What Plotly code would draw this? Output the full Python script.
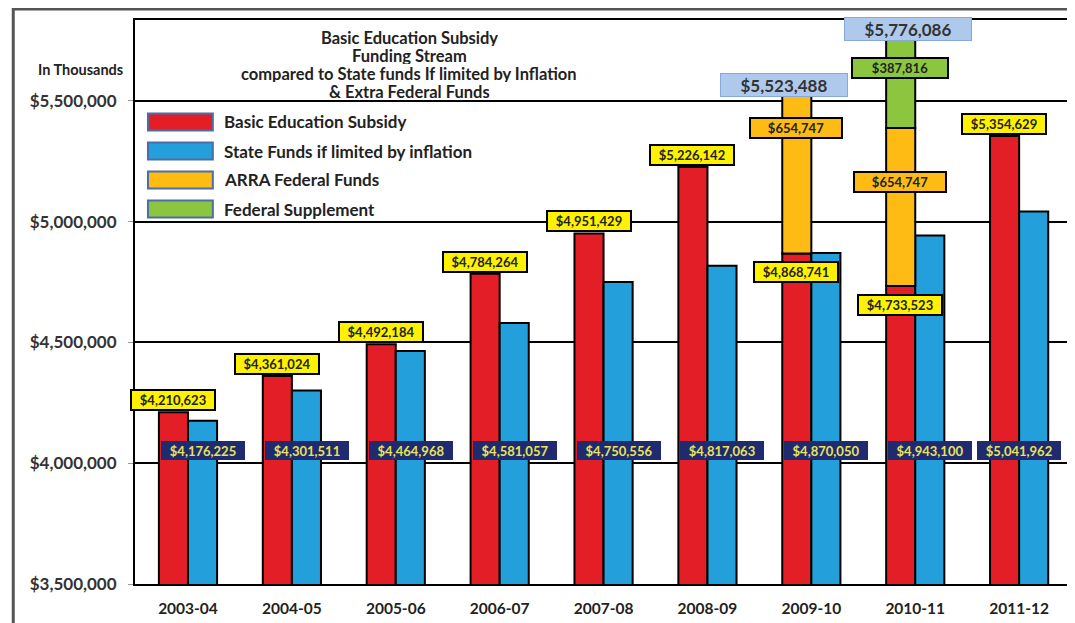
import plotly.graph_objects as go

# ---------------- data ----------------
years = ["2003-04", "2004-05", "2005-06", "2006-07", "2007-08",
         "2008-09", "2009-10", "2010-11", "2011-12"]
basic_subsidy = [4210623, 4361024, 4492184, 4784264, 4951429,
                 5226142, 4868741, 4733523, 5354629]
inflation_limited = [4176225, 4301511, 4464968, 4581057, 4750556,
                     4817063, 4870050, 4943100, 5041962]
arra_years = ["2009-10", "2010-11"]
arra_funds = [654747, 654747]
supplement_years = ["2010-11"]
federal_supplement = [387816]
y_ticks = [3500000, 4000000, 4500000, 5000000, 5500000]
title_lines = ["Basic Education Subsidy", "Funding Stream",
               "compared to State funds If limited by Inflation",
               "& Extra Federal Funds"]
legend_names = ["Basic Education Subsidy", "State Funds if limited by inflation",
                "ARRA Federal Funds", "Federal Supplement"]

# ---------------- styles ----------------
FONT = "Lato, 'Open Sans', sans-serif"
RED = "#E41E26"
BLUE = "#23A0DB"
ORANGE = "#FDBB14"
GREEN = "#8CC63F"
LABEL_YELLOW = "#FFF200"
NAVY = "#1F2B6E"
BAR_W = 0.28
X_RANGE = [-0.51, 8.48]

# plot-area geometry in page pixels (page has an 8px body margin)
PL, PR, PT, PB = 135, 1071, 20, 584
PW, PH = PR - PL, PB - PT
px = lambda x: (x - PL) / PW
py = lambda y: (PB - y) / PH
cat_px = PW / (X_RANGE[1] - X_RANGE[0])

basic_by_year = dict(zip(years, basic_subsidy))
arra_by_year = dict(zip(arra_years, arra_funds))
supp_by_year = dict(zip(supplement_years, federal_supplement))
arra_base = [basic_by_year[y] for y in arra_years]
supp_base = [basic_by_year[y] + arra_by_year[y] for y in supplement_years]

fig = go.Figure()
line = dict(color="black", width=2)
fig.add_trace(go.Bar(name=legend_names[0], x=years, y=basic_subsidy,
                     width=BAR_W, offset=-BAR_W,
                     marker=dict(color=RED, line=line)))
fig.add_trace(go.Bar(name=legend_names[1], x=years, y=inflation_limited,
                     width=BAR_W, offset=0.0,
                     marker=dict(color=BLUE, line=line)))
fig.add_trace(go.Bar(name=legend_names[2], x=arra_years, y=arra_funds,
                     base=arra_base, width=BAR_W, offset=-BAR_W,
                     marker=dict(color=ORANGE, line=line)))
fig.add_trace(go.Bar(name=legend_names[3], x=supplement_years,
                     y=federal_supplement, base=supp_base, width=BAR_W,
                     offset=-BAR_W, marker=dict(color=GREEN, line=line)))

ann = []
money = lambda v: "${:,}".format(v)
LBL_FONT = dict(family=FONT, size=13, color="#222222", weight="bold")

# labels on red bars
for yr, v in zip(years, basic_subsidy):
    stacked = yr in arra_by_year
    ann.append(dict(x=yr, y=v, xref="x", yref="y", text=money(v),
                    showarrow=False, xshift=-15,
                    yanchor="top" if stacked else "bottom",
                    yshift=-8 if stacked else 1,
                    bgcolor=LABEL_YELLOW, bordercolor="black", borderwidth=2,
                    borderpad=1, width=80, height=16, font=LBL_FONT))
# labels on blue bars (kept inside the plot frame)
for i, (yr, v) in enumerate(zip(years, inflation_limited)):
    centre = PL + (i - X_RANGE[0]) * cat_px + 15
    shift = 15 - max(0, centre + 42 - (PR - 8))
    ann.append(dict(x=yr, y=y_ticks[1], xref="x", yref="y",
                    text=money(v), showarrow=False, xshift=shift,
                    yanchor="bottom", yshift=3, bgcolor=NAVY, bordercolor=NAVY,
                    borderwidth=1, borderpad=1, width=80, height=15,
                    font=dict(family=FONT, size=13, color="#E8E25C",
                              weight="bold")))
# ARRA labels
arra_frac = [0.79, 0.66]
for yr, b, v, f in zip(arra_years, arra_base, arra_funds, arra_frac):
    ann.append(dict(x=yr, y=b + v * f, xref="x", yref="y",
                    text=money(v), showarrow=False, xshift=-15,
                    yanchor="middle", bgcolor=ORANGE, bordercolor="black",
                    borderwidth=2, borderpad=1, width=88, height=16,
                    font=LBL_FONT))
# supplement labels
supp_frac = [0.64]
for yr, b, v, f in zip(supplement_years, supp_base, federal_supplement, supp_frac):
    ann.append(dict(x=yr, y=b + v * f, xref="x", yref="y",
                    text=money(v), showarrow=False, xshift=-15,
                    yanchor="middle", bgcolor=GREEN, bordercolor="black",
                    borderwidth=2, borderpad=1, width=92, height=16,
                    font=LBL_FONT))
# total labels
total_dx = [-27, -7]
total_dy = [-2, -7]
for yr, dx, dy in zip(arra_years, total_dx, total_dy):
    tot = basic_by_year[yr] + arra_by_year[yr] + supp_by_year.get(yr, 0)
    ann.append(dict(x=yr, y=tot, xref="x", yref="y", text=money(tot),
                    showarrow=False, xshift=dx, yanchor="bottom", yshift=dy,
                    bgcolor="#AFC9EC", bordercolor="#86A9DA", borderwidth=1,
                    borderpad=2, width=122, height=18,
                    font=dict(family=FONT, size=17, color="#333333",
                              weight="bold")))

# title (one annotation per line for tight spacing)
for txt, ly in zip(title_lines, [38, 56, 74, 92]):
    ann.append(dict(x=px(410), y=py(ly), xref="paper", yref="paper",
                    showarrow=False, xanchor="center", yanchor="middle",
                    height=16, borderpad=0, valign="middle",
                    text=txt, font=dict(family=FONT, size=16.5,
                                        color="#222222", weight="bold")))
ann.append(dict(x=px(80), y=py(70), xref="paper", yref="paper",
                showarrow=False, xanchor="center", yanchor="middle",
                text="In Thousands",
                font=dict(family=FONT, size=14.5, color="#222222",
                          weight="bold")))

# manual legend
shapes = []
legend_cols = [RED, BLUE, ORANGE, GREEN]
row_y = [122, 151, 180, 209]
for name, col, ry in zip(legend_names, legend_cols, row_y):
    shapes.append(dict(type="rect", xref="paper", yref="paper",
                       x0=px(148), x1=px(213), y0=py(ry + 8.5), y1=py(ry - 8.5),
                       fillcolor=col, line=dict(color="#4C6EA6", width=2)))
    ann.append(dict(x=px(222), y=py(ry), xref="paper", yref="paper",
                    showarrow=False, xanchor="left", yanchor="middle",
                    text=name, font=dict(family=FONT, size=17,
                                         color="#222222", weight="bold")))

# outer frame
shapes.append(dict(type="rect", xref="paper", yref="paper",
                   x0=px(13), x1=px(1073), y0=py(640), y1=py(9),
                   line=dict(color="#555555", width=3), layer="below"))

fig.update_layout(
    width=1067, height=615,
    margin=dict(l=PL - 8, r=1075 - PR, t=PT - 8, b=615 - (PB - 8)),
    paper_bgcolor="white", plot_bgcolor="white",
    barmode="overlay", showlegend=False,
    annotations=ann, shapes=shapes,
    font=dict(family=FONT, color="#222222"),
)
fig.update_xaxes(type="category", categoryorder="array", categoryarray=years,
                 range=X_RANGE, showline=True, linecolor="black",
                 linewidth=2, mirror=True, ticks="", showgrid=False,
                 tickfont=dict(family=FONT, size=15.5, color="#222222",
                               weight="bold"),
                 ticklabelstandoff=9)
fig.update_yaxes(range=[3500000, 5835000], tickvals=y_ticks,
                 tickformat="$,.0f", showgrid=True, gridcolor="black",
                 gridwidth=2, showline=True, linecolor="black", linewidth=2,
                 mirror=True, ticks="outside", ticklen=5, tickcolor="#999999",
                 tickfont=dict(family=FONT, size=17, color="#333333",
                               weight="bold"),
                 ticklabelstandoff=8, zeroline=False)

fig.write_html("out.html")
